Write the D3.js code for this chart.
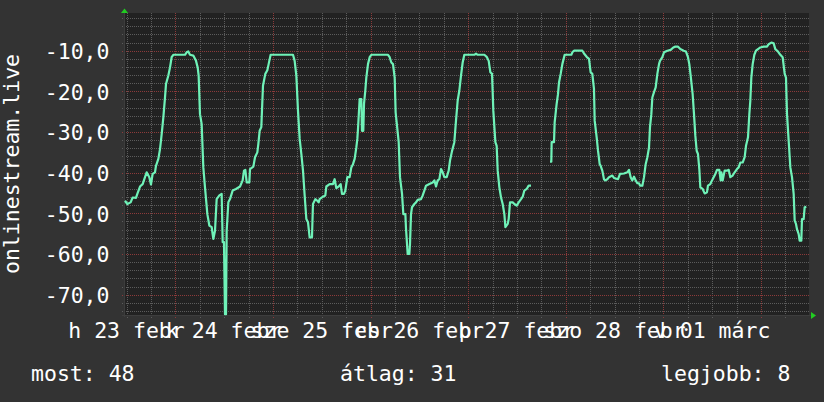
<!DOCTYPE html>
<html><head><meta charset="utf-8">
<script src="https://cdn.jsdelivr.net/npm/d3@7"></script>
<style>
html,body{margin:0;padding:0;background:#333333;}
svg{display:block;}
text{font-family:'DejaVu Sans Mono',monospace;font-size:21.5px;fill:#ffffff;}
</style>
</head><body>
<svg id="chart" width="824" height="402"></svg>
<script>
// hours since 23 Feb 00:00
const hours = [
11.63,12.20,13.02,13.51,14.33,14.66,15.32,15.97,16.55,16.96,17.61,18.02,18.43,19.01,19.25,19.83,20.24,20.65,21.06,21.47,21.71,22.29,22.70,23.10,23.51,26.38,26.79,27.20,27.61,28.43,29.09,29.50,29.74,30.07,30.48,30.89,31.30,31.88,32.37,32.94,33.35,33.76,34.17,34.83,35.40,35.65,35.97,36.22,36.47,36.63,37.04,37.45,38.10,38.92,39.91,40.56,40.89,41.22,41.55,42.20,42.37,43.19,43.60,44.17,44.42,44.74,
45.15,45.56,46.13,46.63,46.95,47.44,52.94,53.35,53.76,54.17,54.58,54.99,55.40,55.81,56.22,56.63,57.03,57.61,57.85,58.43,58.92,59.25,59.49,60.31,60.89,61.13,61.95,62.77,63.18,63.59,64.17,64.66,64.99,65.48,65.81,66.30,66.87,67.28,67.69,68.10,68.51,68.76,68.92,69.33,69.74,69.90,70.23,70.40,70.72,70.97,71.38,71.79,72.20,76.30,76.71,77.12,77.53,77.94,78.18,
78.93,79.25,79.75,80.07,80.57,80.73,81.14,81.55,81.71,81.96,82.20,82.78,83.19,83.60,84.42,84.83,85.24,85.65,86.47,87.29,87.70,88.11,88.52,88.93,89.34,89.75,90.16,90.73,91.22,91.55,92.04,92.61,93.02,93.43,93.84,94.25,94.66,95.07,97.53,97.94,98.35,99.99,100.56,101.06,101.47,101.88,102.20,102.70,103.02,103.27,103.68,104.09,104.50,104.91,105.16,105.73,105.98,106.30,106.96,107.37,107.94,108.43,109.01,109.42,109.83,110.40,110.89,111.47,113.80,
116.13,116.46,116.54,117.12,117.28,117.77,118.10,118.35,118.76,119.17,119.74,121.38,121.63,122.04,124.09,124.50,125.15,125.72,126.13,126.54,126.95,127.12,127.61,127.94,128.35,128.59,129.00,129.41,129.66,130.23,130.64,131.46,131.87,132.86,133.35,134.33,135.15,135.56,135.97,136.38,136.79,137.20,137.61,138.02,138.27,138.84,139.25,139.66,140.07,140.48,140.72,141.05,141.30,141.71,142.12,142.53,142.94,143.18,143.76,144.17,144.99,145.81,146.46,
146.95,147.61,148.18,149.00,149.57,150.06,150.39,150.72,151.21,151.54,151.87,152.20,152.52,152.85,153.10,153.67,154.16,154.74,154.98,155.56,155.97,156.38,156.79,157.20,157.77,158.10,158.26,158.59,159.08,159.66,160.07,160.47,161.05,161.54,162.11,162.52,162.93,163.51,164.00,164.33,164.82,165.15,165.39,165.64,165.97,166.38,166.79,167.28,167.85,168.67,169.49,169.90,170.56,171.13,171.54,172.20,172.77,173.34,173.84,174.16,174.41,174.82,175.23,175.64,176.05,176.30,176.62,176.87,177.28,177.52,177.93,178.10,178.51,178.75,179.16
];
const values = [
-46.9,-47.7,-47.3,-46.1,-46.2,-45.2,-43.4,-42.8,-41.1,-39.9,-41.1,-42.9,-40.3,-39.9,-38.3,-36.6,-34.2,-30.5,-26.4,-21.5,-18.2,-16.1,-14.1,-11.6,-11.0,-11.0,-10.4,-10.2,-11.0,-11.2,-12.5,-14.1,-16.1,-25.6,-28.0,-38.7,-43.6,-50.2,-53.0,-53.4,-56.3,-54.3,-46.5,-45.6,-45.2,-57.1,-57.1,-74.8,-74.8,-54.3,-47.3,-46.5,-44.4,-44.0,-43.4,-41.9,-39.5,-39.3,-42.4,-42.4,-39.1,-38.5,-36.2,-35.0,-32.9,-29.7,
-28.8,-18.6,-15.7,-14.8,-13.3,-11.0,-11.0,-12.5,-16.1,-24.8,-31.7,-35.4,-39.5,-45.6,-51.4,-52.2,-55.9,-55.9,-47.7,-46.5,-46.9,-47.3,-46.5,-45.9,-45.6,-43.4,-42.8,-42.8,-41.6,-43.8,-43.4,-42.8,-45.2,-45.2,-44.4,-41.1,-41.1,-38.7,-37.9,-36.6,-33.8,-31.7,-29.3,-21.9,-21.9,-29.7,-29.7,-23.1,-19.8,-16.6,-13.3,-11.6,-11.0,-11.0,-11.6,-12.9,-13.3,-16.6,-25.2,
-32.5,-41.1,-45.2,-50.2,-50.2,-53.8,-60.0,-60.0,-57.5,-50.2,-48.5,-47.7,-47.3,-46.7,-46.5,-45.6,-44.4,-43.2,-42.8,-42.4,-41.9,-43.4,-41.9,-41.6,-39.1,-39.9,-41.1,-41.1,-39.5,-37.0,-34.7,-32.5,-27.2,-22.3,-19.8,-16.1,-12.9,-11.0,-11.0,-10.7,-11.0,-11.0,-11.5,-12.5,-15.3,-15.7,-24.8,-32.5,-33.4,-39.5,-43.6,-46.1,-47.7,-50.2,-53.4,-52.6,-51.4,-47.3,-47.3,-47.7,-48.1,-47.3,-46.5,-45.9,-44.4,-44.0,-43.2,-43.2,null,
-37.3,-37.3,-32.5,-32.5,-27.6,-23.1,-20.7,-17.8,-15.7,-13.3,-11.0,-11.0,-10.4,-10.0,-10.0,-10.7,-11.5,-12.0,-15.3,-15.7,-19.4,-27.2,-31.3,-34.6,-37.9,-38.3,-39.5,-41.6,-41.9,-41.6,-41.1,-40.7,-41.3,-41.6,-40.3,-40.2,-39.9,-39.3,-41.1,-41.9,-41.0,-41.9,-42.6,-42.6,-43.2,-43.2,-41.1,-37.9,-36.2,-33.8,-28.8,-25.6,-21.5,-20.2,-19.0,-15.7,-13.3,-12.5,-11.6,-10.4,-10.0,-9.8,-9.2,
-9.0,-9.0,-9.6,-10.0,-10.2,-11.6,-13.3,-16.1,-20.7,-25.6,-30.9,-34.6,-35.4,-39.1,-43.6,-44.0,-45.1,-44.8,-43.2,-42.8,-41.9,-41.1,-40.3,-39.3,-39.3,-41.9,-39.9,-41.9,-39.5,-39.5,-39.3,-41.1,-40.7,-39.9,-39.1,-38.7,-37.5,-37.5,-36.2,-33.4,-31.3,-25.6,-22.3,-16.6,-13.3,-11.0,-10.0,-9.6,-9.2,-9.0,-9.0,-8.4,-8.0,-8.2,-9.6,-10.2,-11.0,-11.6,-15.7,-16.6,-25.6,-32.1,-38.7,-41.1,-45.2,-51.8,-52.6,-53.9,-55.1,-56.7,-56.7,-51.4,-51.4,-48.5,-48.4
];
const dayLabels = ["h 23 febr","k 24 febr","sze 25 febr","cs 26 febr","p 27 febr","szo 28 febr","v 01 márc"];
const yTicks = [-70,-60,-50,-40,-30,-20,-10];
const legendItems = ["most: 48","átlag: 31","legjobb: 8"];
const axisTitle = "onlinestream.live";

(function(){
const svg = d3.select("#chart");
const pLeft = 124, pRight = 809, pTop = 13, pBottom = 315;
const base = Date.UTC(2026,1,23,0,0,0);
const hToDate = h => new Date(base + h*3600e3);

const x = d3.scaleUtc().domain([hToDate(11.385), hToDate(179.82)]).range([pLeft, pRight]);
const y = d3.scaleLinear().domain([-75, -0.85]).range([pBottom, 13.5]);

const minorCol = "#5c5c5c", majorCol = "#8c3a3a";

svg.append("rect").attr("width",824).attr("height",402).attr("fill","#333333");
svg.append("rect").attr("x",pLeft).attr("y",pTop).attr("width",pRight-pLeft).attr("height",pBottom-pTop).attr("fill","#222222");

// dotted grid built from 1px squares (1 on, 1 off)
let minorD = "", majorD = "";
const hVals = d3.range(-74, -0.9, 2);
hVals.forEach(v => {
  const yy = Math.round(y(v));
  let s = "";
  for (let xx = pLeft-2; xx < pRight; xx += 2) s += `M${xx},${yy}h1v1h-1z`;
  if (v % 10 === 0) majorD += s; else minorD += s;
});
const vTimes = d3.utcHour.every(6).range(x.domain()[0], x.domain()[1]);
vTimes.forEach(t => {
  const xx = Math.round(x(t));
  let s = "";
  for (let yy = pTop; yy <= pBottom+2; yy += 2) s += `M${xx},${yy}h1v1h-1z`;
  if (t.getUTCHours() === 0) majorD += s; else minorD += s;
});
const g = svg.append("g").attr("shape-rendering","crispEdges");
g.append("path").attr("d",minorD).attr("fill",minorCol);
g.append("path").attr("d",majorD).attr("fill",majorCol);

g.append("rect").attr("x",pLeft-2).attr("y",pBottom).attr("width",pRight-pLeft+4).attr("height",1).attr("fill","#3d3d3d");
g.append("rect").attr("x",pLeft).attr("y",pTop-3).attr("width",1).attr("height",pBottom-pTop+5).attr("fill","#3d3d3d");
svg.append("path").attr("d",`M${pLeft-3},${pTop}L${pLeft+4},${pTop}L${pLeft+0.5},${pTop-4.5}Z`).attr("fill","#22cc22");
svg.append("path").attr("d",`M${pRight+2},${pBottom-3}L${pRight+2},${pBottom+4}L${pRight+7},${pBottom+0.5}Z`).attr("fill","#22cc22");

const pts = hours.map((h,i)=>({t:hToDate(h), v:values[i]}));
const line = d3.line().defined(d=>d.v!==null).x(d=>x(d.t)).y(d=>y(d.v));
svg.append("path").datum(pts).attr("d",line).attr("fill","none")
  .attr("stroke","#6ff2b8").attr("stroke-width",2.2).attr("stroke-linejoin","round");

const loc = d3.formatLocale({decimal:",",thousands:" ",grouping:[3],currency:["",""],minus:"-"});
const fmt = loc.format(".1f");
svg.append("g").selectAll("text").data(yTicks).join("text")
  .attr("x",109.5).attr("y",d=>y(d)+8.3).attr("text-anchor","end").text(d=>fmt(d));

svg.append("g").selectAll("text").data(dayLabels).join("text")
  .attr("x",(d,i)=>x(hToDate(12+24*i))).attr("y",338.3).attr("text-anchor","middle").text(d=>d);

svg.append("text").attr("transform","translate(18.5,164) rotate(-90)").attr("text-anchor","middle").text(axisTitle);

const legX = [31, 340, 661];
svg.append("g").selectAll("text").data(legendItems).join("text")
  .attr("x",(d,i)=>legX[i]).attr("y",381).text(d=>d);
})();
</script>
</body></html>
